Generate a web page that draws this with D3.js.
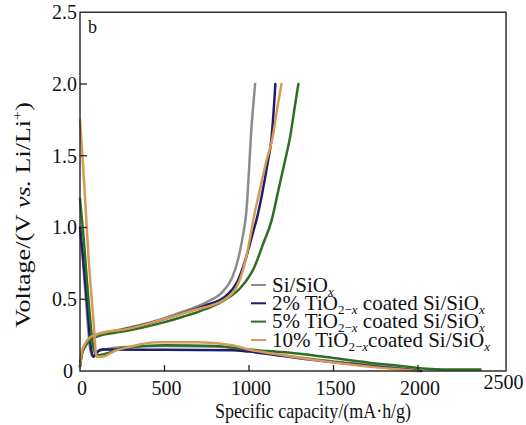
<!DOCTYPE html>
<html><head><meta charset="utf-8">
<script src="https://cdn.jsdelivr.net/npm/d3@7"></script>
<style>body{margin:0;background:#fff}svg{display:block}text{font-family:"Liberation Serif","Times New Roman",serif;fill:#111}</style>
</head><body>
<svg id="c" width="526" height="425"></svg>
<script>
// ---- data (capacity mA·h/g, voltage V) ----
const xTicks = [0, 500, 1000, 1500, 2000, 2500];
const yTicks = [0, 0.5, 1.0, 1.5, 2.0, 2.5];
const yTickLabels = ["0", "0.5", "1.0", "1.5", "2.0", "2.5"];
const seriesNames = ["Si/SiOx", "2% TiO2-x coated Si/SiOx", "5% TiO2-x coated Si/SiOx", "10% TiO2-x coated Si/SiOx"];
const seriesColors = ["#8c8c8c", "#1c1c72", "#2f6e22", "#d69a55"];

const grayDischarge = [[0,1.0],[15,0.8],[40,0.42],[62,0.14],[78,0.1],[110,0.14],[250,0.165],[500,0.175],[800,0.17],[1000,0.145],[1200,0.11],[1400,0.08],[1600,0.055],[1800,0.03],[1950,0.01],[2000,0.0]];
const grayCharge = [[0,0.03],[10,0.12],[30,0.18],[60,0.23],[100,0.255],[200,0.28],[300,0.305],[450,0.35],[600,0.41],[750,0.48],[850,0.56],[900,0.65],[940,0.8],[965,0.95],[985,1.12],[1000,1.4],[1012,1.65],[1025,1.85],[1036,2.0]];

const blueDischarge = [[0,1.0],[10,0.89],[40,0.5],[66,0.15],[80,0.1],[100,0.13],[128,0.15],[500,0.148],[900,0.145],[1000,0.135],[1200,0.105],[1400,0.075],[1600,0.05],[1800,0.025],[1950,0.008],[2020,0.0]];
const blueCharge = [[0,0.03],[10,0.12],[30,0.18],[60,0.225],[100,0.25],[200,0.275],[300,0.3],[450,0.345],[600,0.4],[750,0.46],[860,0.52],[930,0.62],[980,0.78],[1020,0.95],[1050,1.08],[1080,1.25],[1110,1.45],[1134,1.63],[1148,1.85],[1156,2.0]];

const greenDischarge = [[0,1.2],[20,0.95],[50,0.5],[80,0.16],[100,0.11],[150,0.12],[250,0.16],[500,0.18],[800,0.175],[1000,0.15],[1300,0.12],[1500,0.09],[1700,0.06],[1900,0.035],[2050,0.015],[2150,0.01],[2370,0.01]];
const greenCharge = [[0,0.03],[10,0.11],[30,0.17],[60,0.215],[100,0.24],[200,0.265],[300,0.285],[450,0.325],[600,0.375],[750,0.435],[850,0.49],[950,0.58],[1030,0.72],[1085,0.89],[1134,1.05],[1172,1.25],[1210,1.45],[1243,1.63],[1272,1.85],[1292,2.0]];

const orangeDischarge = [[0,1.75],[20,1.4],[50,0.8],[80,0.35],[98,0.1],[130,0.1],[207,0.14],[300,0.17],[450,0.2],[700,0.2],[900,0.18],[1000,0.15],[1200,0.11],[1400,0.075],[1600,0.045],[1800,0.02],[1950,0.005],[2000,0.0]];
const orangeCharge = [[0,0.03],[10,0.13],[30,0.19],[60,0.235],[89,0.25],[150,0.27],[266,0.29],[463,0.35],[661,0.42],[858,0.5],[940,0.62],[985,0.8],[1010,0.95],[1030,1.08],[1062,1.25],[1100,1.45],[1140,1.63],[1170,1.85],[1192,2.0]];

const seriesData = [
  [grayDischarge, grayCharge],
  [blueDischarge, blueCharge],
  [greenDischarge, greenCharge],
  [orangeDischarge, orangeCharge]
];

// ---- layout ----
const svg = d3.select("#c");
const x = d3.scaleLinear().domain([0, 2500]).range([80, 502.5]);
const y = d3.scaleLinear().domain([0, 2.5]).range([371, 12.25]);
const frameRight = x(2521);

const line = d3.line().x(d => x(d[0])).y(d => y(d[1])).curve(d3.curveMonotoneX);

const plot = svg.append("g");
seriesData.forEach((pair, i) => {
  pair.forEach(seg => {
    plot.append("path").datum(seg).attr("d", line)
      .attr("fill", "none").attr("stroke", seriesColors[i])
      .attr("stroke-width", 2.5).attr("stroke-linejoin", "round").attr("stroke-linecap", "round");
  });
});

// frame
svg.append("rect").attr("x", x(0)).attr("y", y(2.5)).attr("width", frameRight - x(0)).attr("height", y(0) - y(2.5))
  .attr("fill", "none").attr("stroke", "#222").attr("stroke-width", 1.4);

// x ticks (inward)
svg.append("g").selectAll("line").data(xTicks.filter(t => t > 0 && t < 2500)).join("line")
  .attr("x1", d => x(d)).attr("x2", d => x(d)).attr("y1", y(0)).attr("y2", y(0) - 6)
  .attr("stroke", "#222").attr("stroke-width", 1.3);
svg.append("g").selectAll("text").data(xTicks).join("text")
  .attr("x", d => d === 2500 ? x(d) + 1 : x(d) + 2)
  .attr("y", d => d === 2500 ? 389 : 395)
  .attr("text-anchor", "middle").attr("font-size", 20).text(d => d);

// y ticks (inward)
svg.append("g").selectAll("line").data(yTicks.filter(t => t > 0 && t < 2.5)).join("line")
  .attr("x1", x(0)).attr("x2", x(0) + 7).attr("y1", d => y(d)).attr("y2", d => y(d))
  .attr("stroke", "#222").attr("stroke-width", 1.3);
svg.append("g").selectAll("text").data(yTicks).join("text")
  .attr("x", d => d === 0 ? 73 : 77).attr("y", d => y(d)).attr("dy", "0.34em")
  .attr("text-anchor", "end").attr("font-size", 20).text((d, i) => yTickLabels[i]);

// axis titles
svg.append("text").attr("transform", "translate(313,418) scale(1,1.15)").attr("text-anchor", "middle").attr("font-size", 18)
  .text("Specific capacity/(mA·h/g)");
const yt = svg.append("text").attr("transform", "translate(30,215) rotate(-90) scale(1.24,1)").attr("text-anchor", "middle").attr("font-size", 21);
yt.append("tspan").text("Voltage/(V ");
yt.append("tspan").attr("font-style", "italic").text("vs.");
yt.append("tspan").text(" Li/Li");
yt.append("tspan").attr("dy", -8).attr("font-size", 13).text("+");
yt.append("tspan").attr("dy", 8).text(")");

// panel label
svg.append("text").attr("x", 88).attr("y", 33).attr("font-size", 18).text("b");

// legend
const legendRowY = [285, 303.3, 321.6, 340];
const leg = svg.append("g");
seriesNames.forEach((name, i) => {
  const yy = legendRowY[i];
  leg.append("line").attr("x1", 251).attr("x2", 266).attr("y1", yy).attr("y2", yy)
    .attr("stroke", seriesColors[i]).attr("stroke-width", 2);
  const t = leg.append("text").attr("x", 272).attr("y", yy + 6.5).attr("font-size", 21);
  if (i === 0) {
    t.append("tspan").text("Si/SiO");
  } else {
    const pct = ["", "2%", "5%", "10%"][i];
    t.append("tspan").text(pct + " TiO");
    const s = t.append("tspan").attr("dy", 4).attr("font-size", 13);
    s.append("tspan").text("2−");
    s.append("tspan").attr("font-style", "italic").text("x");
    t.append("tspan").attr("dy", -4).text(i === 3 ? "coated Si/SiO" : " coated Si/SiO");
  }
  t.append("tspan").attr("dy", 4).attr("font-size", 13).attr("font-style", "italic").text("x");
});
</script>
</body></html>
